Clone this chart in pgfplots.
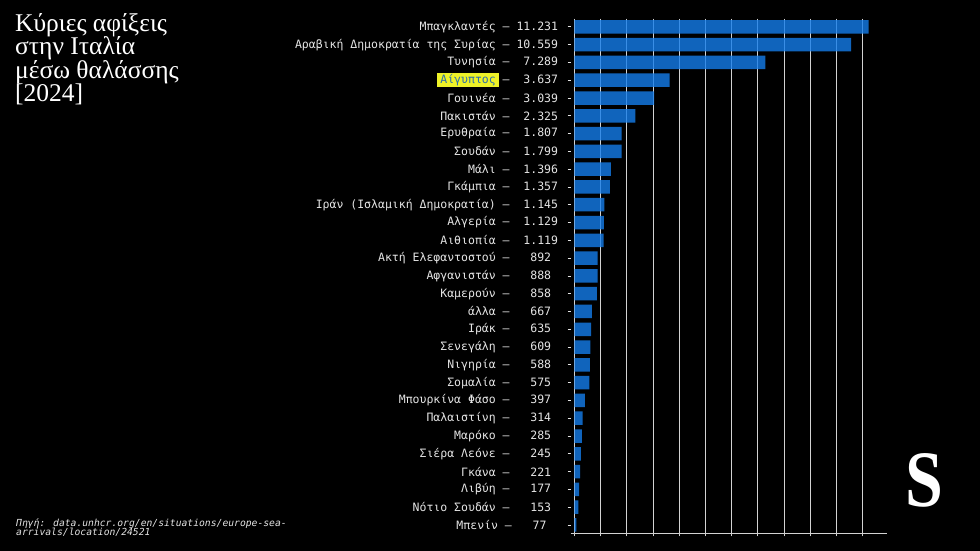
\documentclass[border=0pt]{standalone}
\usepackage{fontspec}
\setmainfont{Liberation Serif}
\setmonofont{DejaVu Sans Mono}
\newfontfamily\srcfont{DejaVu Sans Mono}[ItalicFont={DejaVu Sans Mono Oblique}]
\usepackage{pgfplots}
\pgfplotsset{compat=1.18}
\definecolor{barblue}{RGB}{21,126,236}
\definecolor{gridc}{RGB}{210,210,210}
\definecolor{labc}{RGB}{228,228,228}
\definecolor{hlc}{RGB}{238,242,40}
\definecolor{hltext}{RGB}{45,110,170}
\newcommand{\hl}[1]{{\setlength{\fboxsep}{1bp}\colorbox{hlc}{\hspace{2.5bp}\textcolor{hltext}{#1}\hspace{2.5bp}}}\hspace{-3.5bp}}
\newcommand{\tr}{\phantom{0}}
\begin{document}
\begin{tikzpicture}[x=1bp,y=1bp]
\fill[black] (0bp,0bp) rectangle (980bp,551bp);
\begin{axis}[
  at={(570.7bp,17.7bp)}, anchor=south west,
  scale only axis, width=316bp, height=514.8bp,
  xmin=-140, xmax=11920, ymin=-0.47, ymax=28.47, y dir=reverse,
  axis x line*=bottom, axis y line*=left,
  x axis line style={gridc, line width=0.8bp, -},
  y axis line style={draw=none},
  xtick={0,1000,...,11000}, xticklabels={,,,,,,,,,,,}, scaled x ticks=false,
  ytick={0,...,28},
  yticklabels={Μπαγκλαντές~–~11.231,
Αραβική~Δημοκρατία~της~Συρίας~–~10.559,
Τυνησία~–~~7.289,
\hl{Αίγυπτος}~–~~3.637,
Γουινέα~–~~3.039,
Πακιστάν~–~~2.325,
Ερυθραία~–~~1.807,
Σουδάν~–~~1.799,
Μάλι~–~~1.396,
Γκάμπια~–~~1.357,
Ιράν~(Ισλαμική~Δημοκρατία)~–~~1.145,
Αλγερία~–~~1.129,
Αιθιοπία~–~~1.119,
Ακτή~Ελεφαντοστού~–~~~892\tr,
Αφγανιστάν~–~~~888\tr,
Καμερούν~–~~~858\tr,
άλλα~–~~~667\tr,
Ιράκ~–~~~635\tr,
Σενεγάλη~–~~~609\tr,
Νιγηρία~–~~~588\tr,
Σομαλία~–~~~575\tr,
Μπουρκίνα~Φάσο~–~~~397\tr,
Παλαιστίνη~–~~~314\tr,
Μαρόκο~–~~~285\tr,
Σιέρα~Λεόνε~–~~~245\tr,
Γκάνα~–~~~221\tr,
Λιβύη~–~~~177\tr,
Νότιο~Σουδάν~–~~~153\tr,
Μπενίν~–~~~77\rule{11.6bp}{0pt}},
  tick align=outside,
  major tick length=3bp,
  xtick style={gridc, line width=0.8bp},
  ytick style={labc, line width=0.8bp},
  xmajorgrids, grid style={gridc, line width=0.9bp},
  yticklabel style={font=\ttfamily\fontsize{11.5bp}{13bp}\selectfont, text=labc, anchor=east, inner sep=0pt, xshift=-9.4bp},
]
\addplot[xbar, bar width=13.5bp, bar shift=0pt, fill=barblue, fill opacity=0.8, draw=none] coordinates {
(11231,0) (10559,1) (7289,2) (3637,3) (3039,4) (2325,5) (1807,6) (1799,7) (1396,8) (1357,9)
(1145,10) (1129,11) (1119,12) (892,13) (888,14) (858,15) (667,16) (635,17) (609,18) (588,19)
(575,20) (397,21) (314,22) (285,23) (245,24) (221,25) (177,26) (153,27) (77,28)};
\end{axis}
\begin{scope}[every node/.style={anchor=base west, inner sep=0pt, text=white, font=\fontsize{25.5bp}{25bp}\selectfont}]
\node at (15bp,519.5bp) {Κύριες αφίξεις};
\node at (15bp,496bp) {στην Ιταλία};
\node at (15bp,472.5bp) {μέσω θαλάσσης};
\node at (15bp,449bp) {[2024]};
\end{scope}
\begin{scope}[every node/.style={anchor=base west, inner sep=0pt, text=labc, font=\srcfont\itshape\fontsize{9.7bp}{10bp}\selectfont}]
\node at (16bp,25bp) {Πηγή: data.unhcr.org/en/situations/europe-sea-};
\node at (16bp,15.5bp) {arrivals/location/24521};
\end{scope}
\node[anchor=base, inner sep=0pt, text=white, font=\fontsize{80bp}{80bp}\selectfont\bfseries, xscale=0.85] at (924bp,44bp) {S};
\end{tikzpicture}
\end{document}
